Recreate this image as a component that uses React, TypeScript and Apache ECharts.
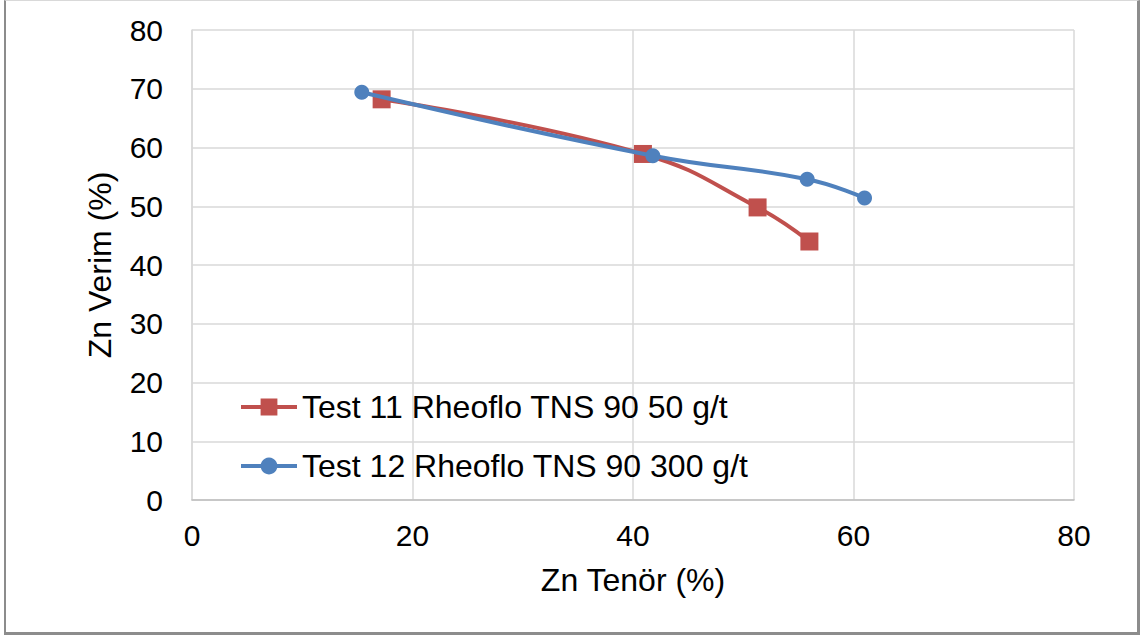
import React, { useEffect, useRef } from "react";
import * as echarts from "echarts";

const series11Name = "Test 11 Rheoflo TNS 90 50 g/t";
const series12Name = "Test 12 Rheoflo TNS 90 300 g/t";
const test11Grade = [17.2, 40.9, 51.3, 56.0];
const test11Recovery = [68.2, 58.9, 49.8, 44.0];
const test12Grade = [15.4, 41.8, 55.8, 61.0];
const test12Recovery = [69.4, 58.6, 54.6, 51.4];
const xTitle = "Zn Tenör (%)";
const yTitle = "Zn Verim (%)";

const FONT = "'Liberation Sans', Arial, sans-serif";

export default function App() {
  const ref = useRef<HTMLDivElement>(null);
  useEffect(() => {
    if (!ref.current) return;
    const chart = echarts.init(ref.current, null, { renderer: "svg" });
    const pairs = (xs: number[], ys: number[]) => xs.map((x, i) => [x, ys[i]]);
    chart.setOption({
      animation: false,
      backgroundColor: "#ffffff",
      textStyle: { fontFamily: FONT },
      grid: { left: 192, right: 66, top: 30, bottom: 135 },
      xAxis: {
        type: "value",
        min: 0,
        max: 80,
        interval: 20,
        name: xTitle,
        nameLocation: "middle",
        nameGap: 64,
        nameTextStyle: { fontSize: 32, color: "#000", fontFamily: FONT },
        axisLine: { show: true, lineStyle: { color: "#BFBFBF", width: 1.5 } },
        axisTick: { show: false },
        axisLabel: { fontSize: 30, color: "#000", margin: 20, fontFamily: FONT },
        splitLine: { show: true, lineStyle: { color: "#D9D9D9", width: 1.5 } },
      },
      yAxis: {
        type: "value",
        min: 0,
        max: 80,
        interval: 10,
        name: yTitle,
        nameLocation: "middle",
        nameGap: 76,
        nameRotate: 90,
        nameTextStyle: { fontSize: 32, color: "#000", fontFamily: FONT },
        axisLine: { show: true, lineStyle: { color: "#D9D9D9", width: 1.5 } },
        axisTick: { show: false },
        axisLabel: { fontSize: 30, color: "#000", margin: 29, fontFamily: FONT },
        splitLine: { show: true, lineStyle: { color: "#D9D9D9", width: 1.5 } },
      },
      legend: {
        orient: "vertical",
        left: 239,
        top: 391,
        padding: 0,
        itemWidth: 56,
        itemHeight: 21,
        itemGap: 27,
        lineStyle: { width: 4 },
        textStyle: { fontSize: 32, color: "#000", fontFamily: FONT },
        data: [series11Name, series12Name],
      },
      series: [
        {
          name: series11Name,
          type: "line",
          data: pairs(test11Grade, test11Recovery),
          smooth: 0.45,
          symbol: "rect",
          symbolSize: 18,
          lineStyle: { color: "#C0504D", width: 4 },
          itemStyle: { color: "#C0504D" },
          z: 2,
        },
        {
          name: series12Name,
          type: "line",
          data: pairs(test12Grade, test12Recovery),
          smooth: 0.45,
          symbol: "circle",
          symbolSize: 15,
          lineStyle: { color: "#4F81BD", width: 4 },
          itemStyle: { color: "#4F81BD" },
          z: 3,
        },
      ],
    });
    return () => chart.dispose();
  }, []);
  return (
    <div style={{ position: "fixed", left: 0, top: 0, width: 1140, height: 635, background: "#fff" }}>
      <div ref={ref} style={{ position: "absolute", left: 0, top: 0, width: 1140, height: 635 }} />
      <div
        style={{
          position: "absolute",
          left: 4,
          top: 0,
          width: 1136,
          height: 635,
          boxSizing: "border-box",
          borderLeft: "2px solid #8c8c8c",
          borderRight: "3px solid #8c8c8c",
          borderBottom: "3px solid #8c8c8c",
          borderTop: "1px solid #d9d9d9",
          pointerEvents: "none",
        }}
      />
    </div>
  );
}
